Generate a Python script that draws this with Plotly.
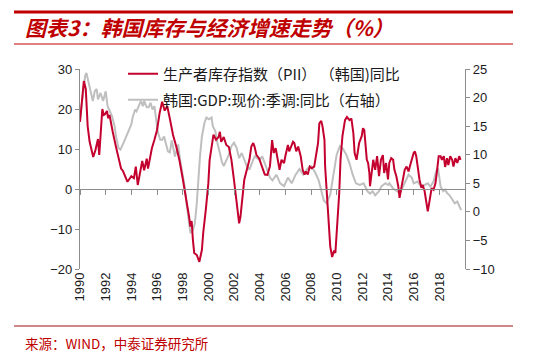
import plotly.graph_objects as go

# ---------------- data ----------------
pii_t = [1990.00, 1990.15, 1990.30, 1990.45, 1990.60, 1990.75, 1990.90, 1991.03, 1991.20, 1991.30,
         1991.40, 1991.50, 1991.63, 1991.74, 1991.85, 1991.95, 1992.10, 1992.20, 1992.30, 1992.40,
         1992.55, 1992.80, 1992.95, 1993.10, 1993.20, 1993.35, 1993.50, 1993.70, 1993.85, 1994.00,
         1994.20, 1994.35, 1994.50, 1994.70, 1994.85, 1995.00, 1995.20, 1995.30, 1995.45, 1995.60,
         1995.80, 1996.00, 1996.20, 1996.40, 1996.60, 1996.80, 1997.00, 1997.25, 1997.50, 1997.75,
         1998.00, 1998.30, 1998.50, 1998.60, 1998.70, 1998.80, 1998.90, 1999.10, 1999.30, 1999.50,
         1999.60, 1999.80, 2000.00, 2000.10, 2000.30, 2000.40, 2000.60, 2000.80, 2000.90, 2001.00,
         2001.20, 2001.40, 2001.60, 2001.80, 2002.00, 2002.20, 2002.40, 2002.50, 2002.65, 2002.80,
         2003.00, 2003.20, 2003.35, 2003.50, 2003.60, 2003.75, 2003.95, 2004.20, 2004.40, 2004.60,
         2004.80, 2004.97, 2005.10, 2005.25, 2005.40, 2005.55, 2005.70, 2005.90, 2006.00, 2006.20,
         2006.30, 2006.45, 2006.60, 2006.70, 2006.85, 2007.00, 2007.20, 2007.35, 2007.50, 2007.60,
         2007.75, 2007.90, 2008.05, 2008.25, 2008.40, 2008.55, 2008.65, 2008.80, 2008.90, 2009.05,
         2009.10, 2009.25, 2009.40, 2009.50, 2009.65, 2009.80, 2009.90, 2010.05, 2010.20, 2010.30,
         2010.45, 2010.65, 2010.80, 2011.00, 2011.15, 2011.30, 2011.40, 2011.55, 2011.75, 2011.95,
         2012.05, 2012.15, 2012.25, 2012.35, 2012.45, 2012.55, 2012.60, 2012.75, 2012.85, 2013.00,
         2013.15, 2013.30, 2013.45, 2013.60, 2013.70, 2013.85, 2014.00, 2014.10, 2014.25, 2014.40,
         2014.50, 2014.65, 2014.80, 2014.90, 2015.05, 2015.20, 2015.30, 2015.45, 2015.60, 2015.70,
         2015.85, 2016.00, 2016.10, 2016.20, 2016.35, 2016.45, 2016.60, 2016.70, 2016.85, 2017.00,
         2017.10, 2017.25, 2017.40, 2017.55, 2017.70, 2017.80, 2017.95, 2018.10, 2018.20, 2018.35,
         2018.45, 2018.60, 2018.70, 2018.85, 2019.00, 2019.10, 2019.25, 2019.40, 2019.55, 2019.65]
pii_v = [16.8, 22.0, 27.0, 25.0, 15.6, 11.8, 9.5, 8.0, 9.7, 11.5,
         12.5, 8.5, 15.6, 20.0, 18.5, 18.7, 19.5, 17.7, 18.5, 16.4,
         14.3, 10.6, 8.3, 6.8, 5.1, 4.5, 3.5, 1.8, 2.5, 3.2,
         2.7, 5.6, 1.0, 4.3, 7.0, 4.7, 7.6, 5.1, 8.0, 10.2,
         12.3, 14.7, 18.9, 21.8, 19.6, 20.7, 17.6, 13.5, 10.6, 7.2,
         2.7, -2.8, -6.9, -9.4, -8.0, -12.8, -16.0, -16.5, -18.2, -15.2,
         -11.0, -5.3, 1.4, 7.2, 12.2, 13.6, 12.3, 13.0, 14.3, 11.8,
         13.0, 11.0, 10.5, 7.3, 2.2, -3.6, -8.6, -7.0, -2.8, 2.3,
         4.8, 7.3, 10.6, 11.5, 10.6, 8.5, 7.7, 5.6, 3.6, 3.5,
         5.7, 12.2, 9.0, 10.2, 7.3, 4.8, 7.3, 6.5, 8.2, 11.0,
         9.4, 10.6, 11.8, 11.5, 9.4, 10.6, 8.2, 4.8, 3.6, 4.4,
         3.6, 5.6, 5.2, 5.6, 8.2, 11.5, 16.4, 17.0, 15.6, 12.3,
         5.7, -1.0, -7.7, -14.4, -17.0, -15.4, -16.0, -9.4, -1.0, 7.3,
         13.2, 17.2, 18.0, 17.2, 17.6, 14.0, 9.0, 7.3, 11.5, 13.2,
         15.2, 14.7, 11.5, 7.3, 6.5, 4.0, 0.7, 4.0, 7.3, 4.8,
         8.2, 3.2, 7.3, 8.5, 4.0, 6.5, 2.4, 6.5, 7.7, 7.3,
         4.8, 3.2, 0.7, -2.2, 0.7, 3.2, 4.8, 5.6, 4.4, 5.6,
         7.3, 9.0, 9.4, 8.2, 4.8, 2.4, 0.3, 1.0, -0.5, -3.5,
         -5.6, -2.7, 0.2, -0.2, 1.5, 4.0, 8.2, 8.2, 7.3, 8.2,
         5.5, 7.7, 6.0, 8.2, 7.3, 5.6, 7.7, 6.5, 8.2, 7.3]

gdp_t = [1990.00, 1990.20, 1990.40, 1990.50, 1990.75, 1991.00, 1991.15, 1991.30, 1991.40, 1991.60,
         1991.80, 1992.00, 1992.15, 1992.30, 1992.50, 1992.70, 1992.80, 1993.00, 1993.15, 1993.40,
         1993.70, 1994.00, 1994.10, 1994.30, 1994.40, 1994.60, 1994.75, 1994.90, 1995.00, 1995.20,
         1995.35, 1995.50, 1995.65, 1995.80, 1995.95, 1996.05, 1996.25, 1996.40, 1996.55, 1996.70,
         1996.85, 1997.00, 1997.15, 1997.40, 1997.65, 1997.80, 1998.00, 1998.15, 1998.30, 1998.50,
         1998.60, 1998.80, 1998.95, 1999.10, 1999.20, 1999.35, 1999.50, 1999.70, 1999.85, 2000.05,
         2000.25, 2000.35, 2000.55, 2000.70, 2000.90, 2001.05, 2001.20, 2001.40, 2001.60, 2001.80,
         2002.00, 2002.20, 2002.40, 2002.60, 2002.80, 2003.00, 2003.20, 2003.40, 2003.60, 2003.80,
         2004.00, 2004.20, 2004.40, 2004.60, 2004.80, 2005.00, 2005.30, 2005.60, 2005.90, 2006.20,
         2006.50, 2006.80, 2007.10, 2007.40, 2007.70, 2008.00, 2008.30, 2008.60, 2008.80, 2009.00,
         2009.20, 2009.50, 2009.75, 2010.00, 2010.25, 2010.50, 2010.75, 2011.00, 2011.25, 2011.50,
         2011.80, 2012.10, 2012.40, 2012.60, 2012.80, 2013.00, 2013.30, 2013.50, 2013.80, 2014.00,
         2014.10, 2014.40, 2014.70, 2014.90, 2015.10, 2015.40, 2015.60, 2015.85, 2016.00, 2016.30,
         2016.60, 2016.85, 2017.10, 2017.30, 2017.55, 2017.75, 2017.90, 2018.10, 2018.30, 2018.45,
         2018.60, 2018.80, 2019.00, 2019.20, 2019.40, 2019.60, 2019.70]
gdp_v = [16.2, 20.3, 23.8, 24.3, 22.0, 19.4, 21.1, 21.5, 19.7, 20.8,
         19.4, 21.1, 18.5, 17.6, 16.7, 15.0, 13.3, 11.2, 10.9, 12.1,
         13.8, 15.3, 16.5, 17.9, 17.6, 18.5, 19.4, 18.5, 19.4, 18.3,
         18.3, 19.1, 17.9, 18.5, 16.2, 14.1, 12.6, 12.6, 13.2, 11.8,
         10.6, 10.4, 12.5, 9.7, 11.8, 9.1, 6.8, 4.5, 1.5, -1.4,
         -3.7, -3.2, -2.0, 1.5, 5.6, 9.7, 13.2, 15.6, 16.5, 16.2,
         16.5, 15.0, 14.1, 12.1, 10.3, 8.8, 8.0, 9.1, 10.0, 11.5,
         12.1, 11.2, 9.4, 10.3, 9.1, 8.0, 7.4, 8.5, 9.7, 9.4,
         9.1, 9.7, 8.5, 7.0, 6.0, 5.5, 6.5, 5.0, 4.5, 6.0,
         5.0, 6.5, 7.5, 6.5, 7.5, 8.0, 7.0, 5.5, 3.5, 2.0,
         1.5, 3.0, 6.5, 10.0, 11.5, 11.0, 10.0, 8.5, 6.5, 5.0,
         4.7, 5.0, 3.6, 3.2, 3.6, 2.9, 3.6, 4.5, 5.0, 4.7,
         5.0, 4.1, 3.6, 3.3, 4.1, 5.6, 6.5, 6.0, 5.0, 5.3,
         4.4, 4.7, 5.0, 4.4, 5.3, 7.1, 7.6, 4.4, 3.6, 3.9,
         3.3, 2.9, 2.3, 1.5, 1.8, 0.6, 0.3]

year_ticks = [1990, 1992, 1994, 1996, 1998, 2000, 2002, 2004, 2006, 2008,
              2010, 2012, 2014, 2016, 2018]
year_labels = ["1990", "1992", "1994", "1996", "1998", "2000", "2002", "2004", "2006", "2008",
               "2010", "2012", "2014", "2016", "2018"]
left_ticks = [-20, -10, 0, 10, 20, 30]
right_ticks = [-10, -5, 0, 5, 10, 15, 20, 25]

name_pii = "生产者库存指数（PII） （韩国)同比"
name_gdp = "韩国:GDP:现价:季调:同比（右轴）"
title_text = "图表3：韩国库存与经济增速走势（%）"
source_text = "来源：WIND，中泰证券研究所"

# ---------------- layout helpers ----------------
# The page body has an 8px default margin, so the figure is drawn 8px smaller
# and every page-pixel position below is shifted by that offset.
OFF = 8
W, H = 535 - OFF, 360 - OFF
PL, PR, PT, PB = 80 - OFF, 465 - OFF, 69 - OFF, 269 - OFF   # plot area (figure px)


def fx(page_px):
    return (page_px - OFF - PL) / (PR - PL)


def fy(page_py):
    return (PB - (page_py - OFF)) / (PB - PT)


RED = "#C4002F"
GRAY = "#BFBFBF"
AXIS = "#8C8C8C"
TXT = "#1a1a1a"
TITLE_RED = "#C00000"
CJK = "Noto Sans CJK SC"
LAT = "Liberation Sans, Arial, sans-serif"

fig = go.Figure()

# GDP on the main subplot (x, y = right axis)
fig.add_trace(go.Scatter(
    x=gdp_t, y=gdp_v, mode="lines", name=name_gdp,
    line=dict(color=GRAY, width=2), xaxis="x", yaxis="y",
    legend="legend2", hoverinfo="skip"))

# PII on the overlay subplot (x2, y2 = left axis), drawn on top
fig.add_trace(go.Scatter(
    x=pii_t, y=pii_v, mode="lines", name=name_pii,
    line=dict(color=RED, width=2), xaxis="x2", yaxis="y2",
    legend="legend", hoverinfo="skip"))

axis_common = dict(showgrid=False, zeroline=False, automargin=False)

fig.update_layout(
    template="none",
    width=W, height=H, autosize=False,
    margin=dict(l=PL, r=W - PR, t=PT, b=H - PB, pad=0),
    paper_bgcolor="white", plot_bgcolor="white",
    showlegend=True, hovermode=False,
    xaxis=dict(range=[1990, 2020], tickmode="array", tickvals=year_ticks, ticktext=year_labels,
               tickangle=-90, showline=False, ticks="", anchor="y",
               tickfont=dict(family=LAT, size=13, color=TXT), **axis_common),
    xaxis2=dict(range=[1990, 2020], overlaying="x", anchor="free", position=fy(189),
                tickmode="array", tickvals=year_ticks, showticklabels=False,
                showline=True, linecolor=AXIS, linewidth=1.3, ticks="outside", ticklen=5,
                tickcolor=AXIS, tickwidth=1.3, **axis_common),
    yaxis=dict(range=[-10, 25], side="right", anchor="x", tickmode="array", tickvals=right_ticks,
               showline=True, linecolor=AXIS, linewidth=1.3, ticks="outside", ticklen=4,
               tickcolor=AXIS, tickwidth=1.3,
               tickfont=dict(family=LAT, size=13, color=TXT), **axis_common),
    yaxis2=dict(range=[-20, 30], side="left", overlaying="y", anchor="x", tickmode="array",
                tickvals=left_ticks, showline=True, linecolor=AXIS, linewidth=1.3, ticks="outside",
                ticklen=4, tickcolor=AXIS, tickwidth=1.3,
                tickfont=dict(family=LAT, size=13, color=TXT), **axis_common),
    legend=dict(x=fx(123), y=fy(74), xanchor="left", yanchor="middle", bgcolor="rgba(0,0,0,0)",
                font=dict(family=CJK, size=15, color=TXT), borderwidth=0),
    legend2=dict(x=fx(123), y=fy(100), xanchor="left", yanchor="middle", bgcolor="rgba(0,0,0,0)",
                 font=dict(family=CJK, size=15, color=TXT), borderwidth=0),
    title=dict(text="<b>" + title_text + "</b>", xref="container", yref="container",
               x=(25 - OFF) / W, y=1 - (29 - OFF) / H, xanchor="left", yanchor="middle",
               font=dict(family=CJK, size=21, color=TITLE_RED, style="italic")),
)

# decorative rules of the report template
fig.add_shape(type="line", xref="paper", yref="paper", x0=fx(14), x1=fx(513), y0=fy(12), y1=fy(12),
              line=dict(color=TITLE_RED, width=3))
fig.add_shape(type="line", xref="paper", yref="paper", x0=fx(14), x1=fx(513), y0=fy(44), y1=fy(44),
              line=dict(color=TITLE_RED, width=1))
fig.add_shape(type="line", xref="paper", yref="paper", x0=fx(14), x1=fx(513), y0=fy(326), y1=fy(326),
              line=dict(color="#A01010", width=1))

fig.add_annotation(text=source_text, xref="paper", yref="paper", x=fx(23), y=fy(343),
                   xanchor="left", yanchor="middle", showarrow=False,
                   font=dict(family=CJK, size=13.5, color=TITLE_RED))

fig.write_html("out.html")
